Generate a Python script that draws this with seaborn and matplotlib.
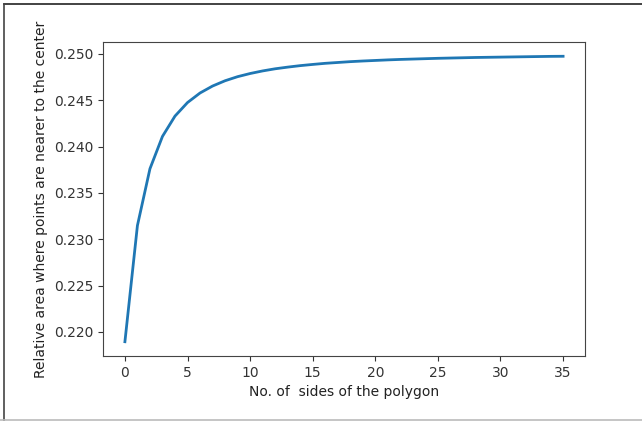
import matplotlib
matplotlib.use("Agg")
import matplotlib.pyplot as plt
from matplotlib.lines import Line2D
import seaborn as sns
import pandas as pd

# Data
sides_index = list(range(36))
relative_area = [
    0.21895, 0.23148, 0.23760, 0.24109, 0.24328, 0.24474, 0.24577, 0.24652,
    0.24709, 0.24753, 0.24787, 0.24815, 0.24838, 0.24856, 0.24872, 0.24885,
    0.24897, 0.24906, 0.24915, 0.24922, 0.24928, 0.24934, 0.24939, 0.24943,
    0.24947, 0.24951, 0.24954, 0.24957, 0.24960, 0.24962, 0.24964, 0.24966,
    0.24968, 0.24970, 0.24972, 0.24973,
]
x_ticks = [0, 5, 10, 15, 20, 25, 30, 35]
y_ticks = [0.220, 0.225, 0.230, 0.235, 0.240, 0.245, 0.250]

df = pd.DataFrame({"x": sides_index, "y": relative_area})

fig = plt.figure(figsize=(6.42, 4.21), dpi=100)
ax = fig.add_axes([103 / 642, 1 - 356 / 421, (585 - 103) / 642, (356 - 42) / 421])
sns.lineplot(data=df, x="x", y="y", ax=ax, color="#1f77b4", linewidth=2.0)

ax.set_xticks(x_ticks)
ax.set_yticks(y_ticks)
ax.set_yticklabels([f"{v:.3f}" for v in y_ticks])
ax.set_xlabel("No. of  sides of the polygon", fontsize=10, color="#222222")
ax.set_ylabel("Relative area where points are nearer to the center", fontsize=10, color="#222222")
ax.tick_params(labelsize=10, colors="#333333")
for s in ax.spines.values():
    s.set_color("#444444")

# screenshot frame
fig.add_artist(Line2D([4 / 642, 1], [1 - 4 / 421, 1 - 4 / 421], transform=fig.transFigure, color="#222222", linewidth=1.2))
fig.add_artist(Line2D([4 / 642, 4 / 642], [0, 1 - 4 / 421], transform=fig.transFigure, color="#444444", linewidth=1.2))
fig.add_artist(Line2D([0, 1], [1.2 / 421, 1.2 / 421], transform=fig.transFigure, color="#bbbbbb", linewidth=1.2))

fig.savefig("out.png", dpi=100)
